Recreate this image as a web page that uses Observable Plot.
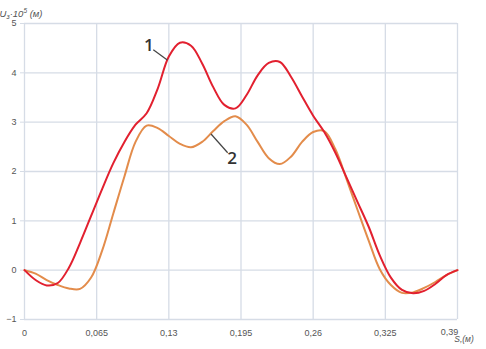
<!DOCTYPE html>
<html>
<head>
<meta charset="utf-8">
<script src="https://cdn.jsdelivr.net/npm/d3@7"></script>
<script src="https://cdn.jsdelivr.net/npm/@observablehq/plot@0.6"></script>
<style>
  html, body { margin: 0; padding: 0; background: #fff; }
  #chart svg { display: block; }
</style>
</head>
<body>
<div id="chart"></div>
<script>
// Displacement S (m) sample positions
const s = [0, 0.01, 0.02, 0.03, 0.04, 0.05, 0.06, 0.07, 0.08, 0.09, 0.10, 0.11, 0.12, 0.13, 0.14, 0.15, 0.16, 0.17, 0.18, 0.19, 0.20, 0.21, 0.22, 0.23, 0.24, 0.25, 0.26, 0.27, 0.28, 0.29, 0.30, 0.31, 0.32, 0.33, 0.34, 0.35, 0.36, 0.37, 0.38, 0.39];
// Curve 1 (red)
const u1 = [0, -0.2, -0.31, -0.26, 0.05, 0.55, 1.1, 1.65, 2.17, 2.6, 2.95, 3.18, 3.68, 4.33, 4.61, 4.55, 4.19, 3.71, 3.35, 3.28, 3.55, 3.95, 4.2, 4.22, 3.92, 3.52, 3.13, 2.8, 2.38, 1.88, 1.38, 0.88, 0.3, -0.15, -0.4, -0.47, -0.42, -0.28, -0.1, 0];
// Curve 2 (orange)
const u2 = [0, -0.07, -0.2, -0.3, -0.37, -0.38, -0.15, 0.4, 1.15, 1.9, 2.6, 2.93, 2.88, 2.72, 2.56, 2.49, 2.6, 2.82, 3.02, 3.12, 2.95, 2.6, 2.27, 2.15, 2.3, 2.6, 2.8, 2.82, 2.45, 1.85, 1.22, 0.6, 0.02, -0.3, -0.46, -0.45, -0.36, -0.24, -0.1, 0];

const xTicks = [0, 0.065, 0.13, 0.195, 0.26, 0.325, 0.39];
const xTickLabels = ["0", "0,065", "0,13", "0,195", "0,26", "0,325", "0,39"];
const yTicks = [-1, 0, 1, 2, 3, 4, 5];

// Curve labels with leader lines
const labelNames = ["1", "2"];
const labelX = [0.112, 0.187];
const labelY = [4.56, 2.26];
const leaderX1 = [0.116, 0.168];
const leaderY1 = [4.47, 2.76];
const leaderX2 = [0.1286, 0.183];
const leaderY2 = [4.26, 2.38];

const line1 = s.map((v, i) => ({s: v, u: u1[i]}));
const line2 = s.map((v, i) => ({s: v, u: u2[i]}));
const labels = labelNames.map((n, i) => ({n, x: labelX[i], y: labelY[i], x1: leaderX1[i], y1: leaderY1[i], x2: leaderX2[i], y2: leaderY2[i]}));
const xLab = xTicks.map((t, i) => ({t, label: xTickLabels[i]}));

const gridColor = "#d6dce6";
const font = "'Liberation Sans', Arial, sans-serif";

const plot = Plot.plot({
  width: 486,
  height: 349,
  marginLeft: 24,
  marginRight: 29,
  marginTop: 23,
  marginBottom: 30,
  style: {fontFamily: font, fontSize: "9px", color: "#555", background: "#fff"},
  x: {domain: [0, 0.39], axis: null},
  y: {domain: [-1, 5], ticks: yTicks},
  marks: [
    Plot.gridX(xTicks, {stroke: gridColor, strokeOpacity: 1, strokeWidth: 1.3}),
    Plot.gridY(yTicks, {stroke: gridColor, strokeOpacity: 1, strokeWidth: 1.3}),
    Plot.axisY(yTicks, {tickSize: 4, tickPadding: 4, stroke: gridColor, fill: "#555", label: null}),
    // x tick labels (last one nudged left to leave room for the axis title)
    Plot.text(xLab.slice(0, -1), {x: "t", text: "label", frameAnchor: "bottom", dy: 16, fill: "#555", fontSize: 9}),
    Plot.text(xLab.slice(-1), {x: "t", text: "label", frameAnchor: "bottom", dy: 15, dx: -8, fill: "#555", fontSize: 9}),
    Plot.line(line2, {x: "s", y: "u", stroke: "#e38c4b", strokeWidth: 2, curve: "catmull-rom"}),
    Plot.line(line1, {x: "s", y: "u", stroke: "#e2202f", strokeWidth: 2, curve: "catmull-rom"}),
    Plot.link(labels, {x1: "x1", y1: "y1", x2: "x2", y2: "y2", stroke: "#444", strokeWidth: 1.2}),
    Plot.text(labels, {x: "x", y: "y", text: "n", fontSize: 17, fill: "#333", fontWeight: 600, fontFamily: "'Open Sans', sans-serif"})
  ]
});

const svg = d3.select(plot);
// y-axis title with sub/superscripts
svg.append("text")
  .attr("x", 21).attr("y", 17)
  .attr("font-family", font).attr("font-size", 9.5).attr("font-style", "italic").attr("fill", "#555")
  .call(t => {
    t.append("tspan").text("U");
    t.append("tspan").attr("font-size", 7).attr("dy", 2).text("з");
    t.append("tspan").attr("dy", -2).text("·10");
    t.append("tspan").attr("font-size", 6.5).attr("dy", -4).text("5");
    t.append("tspan").attr("dy", 4).text(" (м)");
  });
// x-axis title
svg.append("text")
  .attr("x", 464).attr("y", 342)
  .attr("font-family", font).attr("font-size", 8.5).attr("font-style", "italic").attr("fill", "#555")
  .text("S,(м)");

document.getElementById("chart").appendChild(plot);
</script>
</body>
</html>
